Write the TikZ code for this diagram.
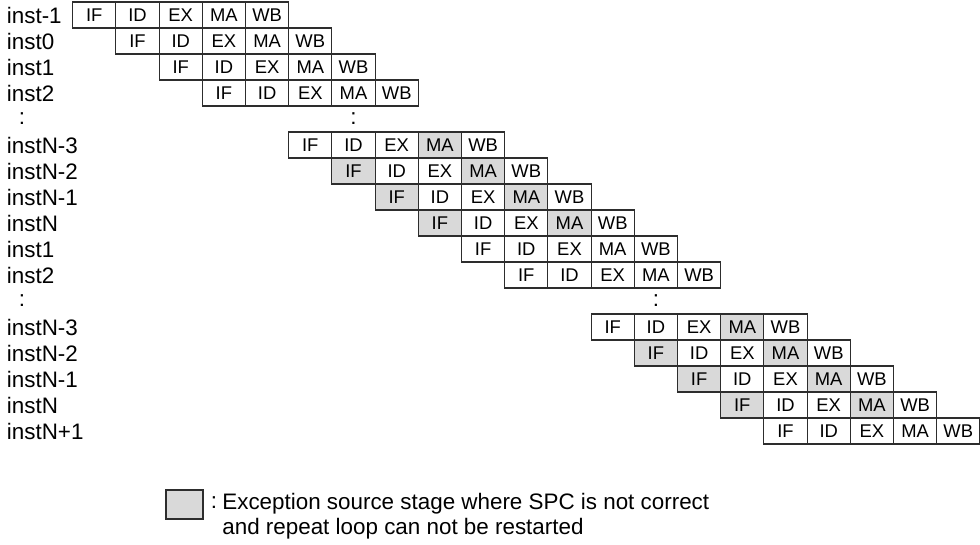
\documentclass[tikz,border=0pt]{standalone}
\usepackage{fontspec}
\setmainfont{Liberation Sans}
\usepackage{tikz}
\definecolor{stagegray}{RGB}{217,217,217}
\definecolor{stageline}{RGB}{45,45,45}

\tikzset{
  stage/.style={draw=stageline,line width=0.55pt,minimum width=21.6pt,minimum height=13pt,
    inner sep=0pt,font=\fontsize{9.2}{10}\selectfont},
  rowlab/.style={anchor=west,inner sep=0pt,font=\fontsize{11.2}{12}\selectfont},
  dotlab/.style={inner sep=0pt,font=\fontsize{11.2}{12}\selectfont}
}

\begin{document}
\begin{tikzpicture}[x=0.5pt,y=-0.5pt]
        \useasboundingbox (0,0) rectangle (980,545);
        % pipeline rows: index/label/shade (0 none, 1 MA, 2 IF+MA)
        \foreach \r/\lab/\shade in {0/inst-1/0,1/inst0/0,2/inst1/0,3/inst2/0,
            5/instN-3/1,6/instN-2/2,7/instN-1/2,8/instN/2,9/inst1/0,10/inst2/0,
            12/instN-3/1,13/instN-2/2,14/instN-1/2,15/instN/2,16/instN+1/0}{
            \node[rowlab] (l\r) at (6.5,{2+(\r+0.5)*26}) {\lab};
            \foreach \s/\st in {0/IF,1/ID,2/EX,3/MA,4/WB}{
                \pgfmathtruncatemacro{\isgray}{((\s==3 && \shade>0) || (\s==0 && \shade==2)) ? 1 : 0}
                \ifnum\isgray=1 \def\cellfill{stagegray}\else\def\cellfill{white}\fi
                \node[stage,fill=\cellfill] (c\r-\s) at ({72.7+(\r+\s+0.5)*43.2},{2+(\r+0.5)*26}) {\st};}}
        % skipped rows
        \node[dotlab] (dl1) at (22,119) {:};
        \node[dotlab] (dg1) at (353.5,119) {:};
        \node[dotlab] (dl2) at (22,301) {:};
        \node[dotlab] (dg2) at (655.9,301) {:};
        % legend
        \node[stage,fill=stagegray,minimum width=18.5pt,minimum height=14.5pt] (legbox) at (184.5,504.5) {};
        \node[dotlab] (legcolon) at (214,503) {:};
        \node[anchor=west,inner sep=0pt,align=left,font=\fontsize{11.2}{12.5}\selectfont] (legtext) at (222,516)
            {Exception source stage where SPC is not correct\\and repeat loop can not be restarted};
      \end{tikzpicture}
\end{document}
